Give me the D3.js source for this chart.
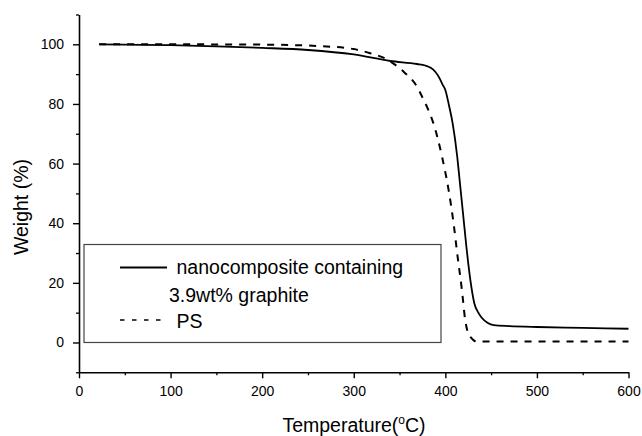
<!DOCTYPE html>
<html>
<head>
<meta charset="utf-8">
<script src="https://cdn.jsdelivr.net/npm/d3@7"></script>
<style>
  body { margin: 0; background: #fff; }
  text { font-family: "Liberation Sans", Arial, sans-serif; fill: #000; }
</style>
</head>
<body>
<svg id="chart"></svg>
<script>
// nanocomposite containing 3.9wt% graphite (solid)
const nanoTemp = [22, 50, 100, 150, 200, 250, 300, 340, 369, 378, 384, 389, 393, 397, 400, 404, 408, 413, 415.6, 419.3, 423, 427.3, 431.7, 436, 440, 446, 453, 470, 500, 550, 600];
const nanoWeight = [100, 99.9, 99.7, 99.3, 98.8, 98.1, 96.6, 94.4, 93.4, 92.9, 92.1, 90.8, 89, 86.5, 84.7, 79.5, 73.5, 62.3, 54.5, 43.3, 32.1, 21, 13.1, 10, 8.2, 6.6, 5.8, 5.5, 5.2, 4.9, 4.6];

// PS (dashed)
const psTemp = [22, 100, 200, 263, 300, 318, 336, 345, 354.5, 369, 375.5, 380, 387, 396.4, 403.6, 409, 413.4, 418.1, 421.7, 424.5, 427.3, 431, 434.6, 500, 600];
const psWeight = [100, 100, 99.9, 99.4, 98.4, 97, 95, 93.2, 90.8, 85.8, 81.9, 79, 73.5, 62.3, 51.1, 40, 28.8, 17.6, 7.5, 3.5, 1.9, 0.7, 0.3, 0.3, 0.3];

const xTicks = [0, 100, 200, 300, 400, 500, 600];
const yTicks = [0, 20, 40, 60, 80, 100];
const legendLabels = [["nanocomposite containing", "3.9wt% graphite"], ["PS"]];

const width = 642, height = 436;
const margin = { top: 14.5, right: 14, bottom: 64, left: 79 };

const svg = d3.select("#chart")
  .attr("width", width)
  .attr("height", height);

const x = d3.scaleLinear()
  .domain([0, 600])
  .range([margin.left, 628.5]);

const y = d3.scaleLinear()
  .domain([-10, 110])
  .range([372.3, margin.top]);

// minor ticks
const xMinor = d3.range(0, 601, 50).filter(d => d % 100 !== 0);
const yMinor = d3.range(-10, 111, 10).filter(d => d % 20 !== 0);

svg.append("g")
  .attr("transform", `translate(0,${y(-10)})`)
  .call(d3.axisBottom(x).tickValues(xMinor).tickSize(3).tickFormat(""))
  .call(g => g.select(".domain").remove())
  .selectAll("line").attr("stroke-width", 1.3);

svg.append("g")
  .attr("transform", `translate(${x(0)},0)`)
  .call(d3.axisLeft(y).tickValues(yMinor).tickSize(3).tickFormat(""))
  .call(g => g.select(".domain").remove())
  .selectAll("line").attr("stroke-width", 1.3);

const xAxis = svg.append("g")
  .attr("transform", `translate(0,${y(-10)})`)
  .call(d3.axisBottom(x).tickValues(xTicks).tickSize(6).tickSizeOuter(0).tickPadding(8));

const yAxis = svg.append("g")
  .attr("transform", `translate(${x(0)},0)`)
  .call(d3.axisLeft(y).tickValues(yTicks).tickSize(6).tickSizeOuter(0).tickPadding(9));

[xAxis, yAxis].forEach(g => {
  g.select(".domain").attr("stroke-width", 1.6);
  g.selectAll(".tick line").attr("stroke-width", 1.4);
  g.selectAll("text")
    .style("font-family", '"Liberation Sans", Arial, sans-serif')
    .style("font-size", "14px");
});

// curves
const line = d3.line()
  .x(d => x(d[0]))
  .y(d => y(d[1]))
  .curve(d3.curveMonotoneX);

svg.append("path")
  .datum(nanoTemp.map((t, i) => [t, nanoWeight[i]]))
  .attr("fill", "none")
  .attr("stroke", "#000")
  .attr("stroke-width", 1.8)
  .attr("d", line);

svg.append("path")
  .datum(psTemp.map((t, i) => [t, psWeight[i]]))
  .attr("fill", "none")
  .attr("stroke", "#000")
  .attr("stroke-width", 2)
  .attr("stroke-dasharray", "7,7")
  .attr("d", line);

// legend
const legend = svg.append("g");
legend.append("rect")
  .attr("x", 84)
  .attr("y", 244.5)
  .attr("width", 357)
  .attr("height", y(0) - 244.5)
  .attr("fill", "#fff")
  .attr("stroke", "#444")
  .attr("stroke-width", 1.2);

legend.append("line")
  .attr("x1", 120).attr("x2", 167)
  .attr("y1", 267.5).attr("y2", 267.5)
  .attr("stroke", "#000").attr("stroke-width", 1.8);

legend.append("line")
  .attr("x1", 120).attr("x2", 167)
  .attr("y1", 320).attr("y2", 320)
  .attr("stroke", "#000").attr("stroke-width", 1.6)
  .attr("stroke-dasharray", "4.5,7.5");

legend.append("text")
  .attr("x", 176.5).attr("y", 274)
  .style("font-size", "19.5px")
  .text(legendLabels[0][0]);

legend.append("text")
  .attr("x", 169).attr("y", 301.5)
  .style("font-size", "19.5px")
  .text(legendLabels[0][1]);

legend.append("text")
  .attr("x", 176.5).attr("y", 328)
  .style("font-size", "19.5px")
  .text(legendLabels[1][0]);

// axis titles
const xTitle = svg.append("text")
  .attr("x", 354)
  .attr("y", 432)
  .attr("text-anchor", "middle")
  .style("font-size", "19.5px");
xTitle.append("tspan").text("Temperature(");
xTitle.append("tspan").attr("dy", -8).style("font-size", "12px").text("o");
xTitle.append("tspan").attr("dy", 8).text("C)");

svg.append("text")
  .attr("transform", "rotate(-90)")
  .attr("x", -207)
  .attr("y", 27.5)
  .attr("text-anchor", "middle")
  .style("font-size", "19.5px")
  .text("Weight (%)");
</script>
</body>
</html>
